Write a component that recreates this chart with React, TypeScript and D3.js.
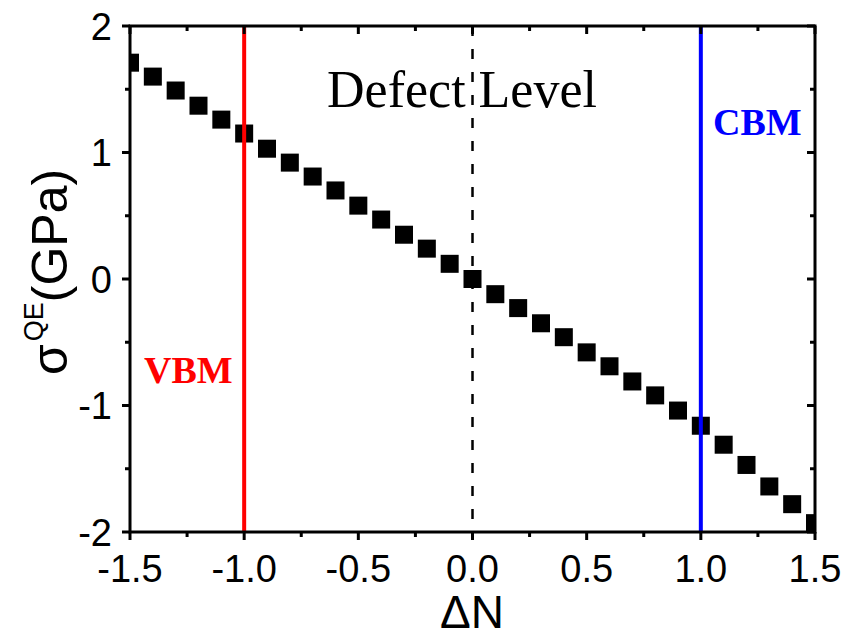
import React from 'react';
import * as d3 from 'd3';

// charge change and quantum-electronic stress
const deltaN = [-1.5, -1.4, -1.3, -1.2, -1.1, -1.0, -0.9, -0.8, -0.7, -0.6, -0.5, -0.4, -0.3, -0.2, -0.1,
  0, 0.1, 0.2, 0.3, 0.4, 0.5, 0.6, 0.7, 0.8, 0.9, 1.0, 1.1, 1.2, 1.3, 1.4, 1.5];
const stress = [1.71, 1.6, 1.49, 1.37, 1.26, 1.15, 1.03, 0.92, 0.81, 0.7, 0.58, 0.47, 0.35, 0.24, 0.12,
  0, -0.12, -0.23, -0.35, -0.46, -0.58, -0.69, -0.81, -0.92, -1.04, -1.16, -1.31, -1.47, -1.64, -1.78, -1.93];

const xTicks = [-1.5, -1.0, -0.5, 0.0, 0.5, 1.0, 1.5];
const xMinor = [-1.25, -0.75, -0.25, 0.25, 0.75, 1.25];
const yTicks = [-2, -1, 0, 1, 2];
const yMinor = [-1.5, -0.5, 0.5, 1.5];

const W = 846;
const H = 637;
const margin = { top: 26, right: 31, bottom: 105, left: 130 };

const sans = '"Liberation Sans", Arial, sans-serif';
const serif = '"Liberation Serif", "Times New Roman", serif';

export default function App() {
  const x = d3.scaleLinear().domain([-1.5, 1.5]).range([margin.left, W - margin.right]);
  const y = d3.scaleLinear().domain([-2, 2]).range([H - margin.bottom, margin.top]);
  const [x0, x1] = x.range();
  const [y0, y1] = y.range(); // y0 bottom, y1 top
  const sq = 18;
  const major = 8;
  const minor = 5;

  return (
    <svg width={W} height={H} style={{ display: 'block', position: 'absolute', left: 0, top: 0 }}>
      <rect width={W} height={H} fill="#fff" />
      <defs>
        <clipPath id="plot">
          <rect x={x0} y={y1} width={x1 - x0} height={y0 - y1} />
        </clipPath>
      </defs>

      {/* dashed defect level */}
      <line x1={x(0)} x2={x(0)} y1={y1} y2={y0} stroke="#000" strokeWidth={2.5} strokeDasharray="10,13" />

      {/* data squares */}
      <g clipPath="url(#plot)">
        {deltaN.map((d, i) => (
          <rect key={i} x={x(d) - sq / 2} y={y(stress[i]) - sq / 2} width={sq} height={sq} fill="#000" />
        ))}
      </g>

      {/* band edges */}
      <line x1={x(-1)} x2={x(-1)} y1={y1} y2={y0} stroke="#ff0000" strokeWidth={4} />
      <line x1={x(1)} x2={x(1)} y1={y1} y2={y0} stroke="#0000ff" strokeWidth={4} />

      {/* frame */}
      <rect x={x0} y={y1} width={x1 - x0} height={y0 - y1} fill="none" stroke="#000" strokeWidth={3} />

      {/* x ticks: bottom outward, top inward */}
      {xTicks.map(t => (
        <g key={'xt' + t}>
          <line x1={x(t)} x2={x(t)} y1={y0} y2={y0 + major} stroke="#000" strokeWidth={3} />
          <line x1={x(t)} x2={x(t)} y1={y1} y2={y1 + major} stroke="#000" strokeWidth={3} />
          <text x={x(t)} y={582} textAnchor="middle" fontFamily={sans} fontSize={38}>
            {t.toFixed(1)}
          </text>
        </g>
      ))}
      {xMinor.map(t => (
        <g key={'xm' + t}>
          <line x1={x(t)} x2={x(t)} y1={y0} y2={y0 + minor} stroke="#000" strokeWidth={3} />
          <line x1={x(t)} x2={x(t)} y1={y1} y2={y1 + minor} stroke="#000" strokeWidth={3} />
        </g>
      ))}

      {/* y ticks: left outward, right inward */}
      {yTicks.map(t => (
        <g key={'yt' + t}>
          <line x1={x0} x2={x0 - major} y1={y(t)} y2={y(t)} stroke="#000" strokeWidth={3} />
          <line x1={x1} x2={x1 - major} y1={y(t)} y2={y(t)} stroke="#000" strokeWidth={3} />
          <text x={112} y={y(t)} dy="0.36em" textAnchor="end" fontFamily={sans} fontSize={38}>
            {t}
          </text>
        </g>
      ))}
      {yMinor.map(t => (
        <g key={'ym' + t}>
          <line x1={x0} x2={x0 - minor} y1={y(t)} y2={y(t)} stroke="#000" strokeWidth={3} />
          <line x1={x1} x2={x1 - minor} y1={y(t)} y2={y(t)} stroke="#000" strokeWidth={3} />
        </g>
      ))}

      {/* annotations */}
      <text x={462} y={107} textAnchor="middle" fontFamily={serif} fontSize={52}>Defect Level</text>
      <text x={713} y={135} fontFamily={serif} fontSize={38} fontWeight="bold" fill="#0000ff">CBM</text>
      <text x={144} y={383} fontFamily={serif} fontSize={38} fontWeight="bold" fill="#ff0000">VBM</text>

      {/* axis titles */}
      <text x={472} y={628} textAnchor="middle" fontFamily={sans} fontSize={46}>ΔN</text>
      <text transform="translate(67,272) rotate(-90)" textAnchor="middle" fontFamily={sans} fontSize={50}>
        σ<tspan fontSize={27} dy={-24} dx={3}>QE</tspan><tspan dy={24}>(GPa)</tspan>
      </text>
    </svg>
  );
}
